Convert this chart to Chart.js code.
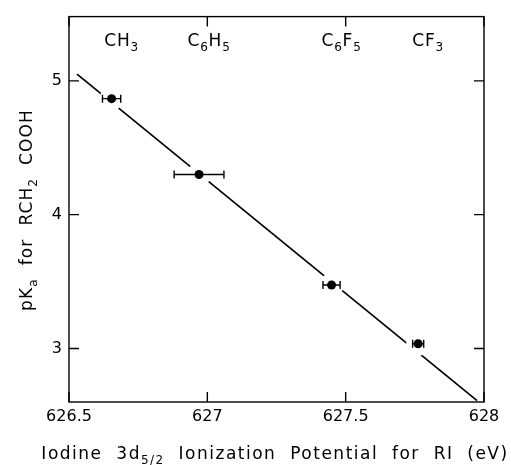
<!DOCTYPE html>
<html>
<head>
<meta charset="utf-8">
<script src="https://cdn.jsdelivr.net/npm/chart.js@4.4.1/dist/chart.umd.min.js"></script>
<style>
  html, body { margin: 0; padding: 0; background: #fff; }
  #wrap { width: 511px; height: 465px; position: relative; }
</style>
</head>
<body>
<div id="wrap"><canvas id="c" width="511" height="465"></canvas></div>
<script>
// ---- data ----
const groupLabels = ["CH_{3}", "C_{6}H_{5}", "C_{6}F_{5}", "CF_{3}"];
const ionizationEV = [626.654, 626.970, 627.449, 627.762];
const pKaValues = [4.867, 4.30, 3.474, 3.035];
const ionizationErr = [0.033, 0.09, 0.031, 0.02];
const fitLineX = [626.529, 627.975];
const fitLineY = [5.05, 2.61];
const xTickValues = [626.5, 627, 627.5, 628];
const xTickLabels = ["626.5", "627", "627.5", "628"];
const yTickValues = [3, 4, 5];
const yTickLabels = ["3", "4", "5"];
const xTitle = "Iodine  3d_{5/2}  Ionization  Potential  for  RI  (eV)";
const yTitle = "pK_{a}  for  RCH_{2}  COOH";

const FONT = '"DejaVu Sans", sans-serif';

function parseRich(s) {
  const segs = [];
  const re = /_\{([^}]*)\}/g;
  let last = 0, m;
  while ((m = re.exec(s)) !== null) {
    if (m.index > last) segs.push({ t: s.slice(last, m.index), sub: false });
    segs.push({ t: m[1], sub: true });
    last = re.lastIndex;
  }
  if (last < s.length) segs.push({ t: s.slice(last), sub: false });
  return segs;
}

function drawRich(ctx, s, cx, cy, size, spacing) {
  const segs = parseRich(s);
  const subSize = Math.round(size * 0.72);
  ctx.letterSpacing = (spacing || 0) + 'px';
  let total = 0;
  segs.forEach(g => {
    ctx.font = (g.sub ? subSize : size) + 'px ' + FONT;
    g.w = ctx.measureText(g.t).width;
    total += g.w;
  });
  let x = cx - total / 2;
  ctx.textAlign = 'left';
  ctx.textBaseline = 'middle';
  segs.forEach(g => {
    ctx.font = (g.sub ? subSize : size) + 'px ' + FONT;
    ctx.fillText(g.t, x, g.sub ? cy + size * 0.32 : cy);
    x += g.w;
  });
  ctx.letterSpacing = '0px';
}

const framePlugin = {
  id: 'frame',
  afterDatasetsDraw(chart) {
    const ctx = chart.ctx;
    const a = chart.chartArea;
    const xs = chart.scales.x, ys = chart.scales.y;
    ctx.save();
    // error bars
    ctx.strokeStyle = '#000';
    ctx.lineWidth = 1.4;
    for (let i = 0; i < ionizationEV.length; i++) {
      const x1 = xs.getPixelForValue(ionizationEV[i] - ionizationErr[i]);
      const x2 = xs.getPixelForValue(ionizationEV[i] + ionizationErr[i]);
      const y = ys.getPixelForValue(pKaValues[i]);
      ctx.beginPath();
      ctx.moveTo(x1, y); ctx.lineTo(x2, y);
      ctx.moveTo(x1, y - 4); ctx.lineTo(x1, y + 4);
      ctx.moveTo(x2, y - 4); ctx.lineTo(x2, y + 4);
      ctx.stroke();
    }
    // frame
    ctx.lineWidth = 1.4;
    ctx.strokeRect(a.left, a.top, a.right - a.left, a.bottom - a.top);
    const tl = 10;
    ctx.beginPath();
    xTickValues.forEach(v => {
      const px = xs.getPixelForValue(v);
      ctx.moveTo(px, a.bottom); ctx.lineTo(px, a.bottom - tl);
      ctx.moveTo(px, a.top); ctx.lineTo(px, a.top + tl);
    });
    yTickValues.forEach(v => {
      const py = ys.getPixelForValue(v);
      ctx.moveTo(a.left, py); ctx.lineTo(a.left + tl, py);
      ctx.moveTo(a.right, py); ctx.lineTo(a.right - tl, py);
    });
    ctx.stroke();
    // group labels at top
    ctx.fillStyle = '#000';
    for (let i = 0; i < groupLabels.length; i++) {
      const px = xs.getPixelForValue(ionizationEV[i]) + 10;
      drawRich(ctx, groupLabels[i], px, 42, 17, 0.8);
    }
    // axis titles
    drawRich(ctx, xTitle, 275, 455, 17, 1.5);
    ctx.translate(28, 210);
    ctx.rotate(-Math.PI / 2);
    drawRich(ctx, yTitle, 0, 0, 17, 1.1);
    ctx.restore();
  }
};

new Chart(document.getElementById('c'), {
  type: 'scatter',
  data: {
    datasets: [
      {
        label: 'points',
        order: 0,
        data: ionizationEV.map((x, i) => ({ x, y: pKaValues[i] })),
        pointRadius: 4.5,
        pointBackgroundColor: '#000',
        pointBorderWidth: 0,
        showLine: false
      },
      {
        label: 'halo',
        order: 1,
        data: ionizationEV.map((x, i) => ({ x, y: pKaValues[i] })),
        pointRadius: 12,
        pointBackgroundColor: '#fff',
        pointBorderWidth: 0,
        showLine: false
      },
      {
        label: 'fit',
        order: 2,
        data: fitLineX.map((x, i) => ({ x, y: fitLineY[i] })),
        showLine: true,
        borderColor: '#000',
        borderWidth: 1.7,
        pointRadius: 0,
        fill: false
      }
    ]
  },
  options: {
    responsive: false,
    animation: false,
    events: [],
    layout: { padding: { left: 0, right: 27, top: 13, bottom: 0 } },
    plugins: { legend: { display: false }, tooltip: { enabled: false } },
    scales: {
      x: {
        type: 'linear',
        min: 626.5, max: 628,
        grid: { display: false, drawTicks: false },
        border: { display: false },
        afterBuildTicks: s => { s.ticks = xTickValues.map(v => ({ value: v })); },
        afterFit: s => { s.height = 63; },
        ticks: {
          autoSkip: false, maxRotation: 0, padding: 5,
          color: '#000', font: { family: FONT, size: 16 },
          callback: (v) => xTickLabels[xTickValues.indexOf(v)]
        }
      },
      y: {
        type: 'linear',
        min: 2.6, max: 5.48,
        grid: { display: false, drawTicks: false },
        border: { display: false },
        afterBuildTicks: s => { s.ticks = yTickValues.map(v => ({ value: v })); },
        afterFit: s => { s.width = 69; },
        ticks: {
          padding: 7,
          color: '#000', font: { family: FONT, size: 16 },
          callback: (v) => yTickLabels[yTickValues.indexOf(v)]
        }
      }
    }
  },
  plugins: [framePlugin]
});
</script>
</body>
</html>
